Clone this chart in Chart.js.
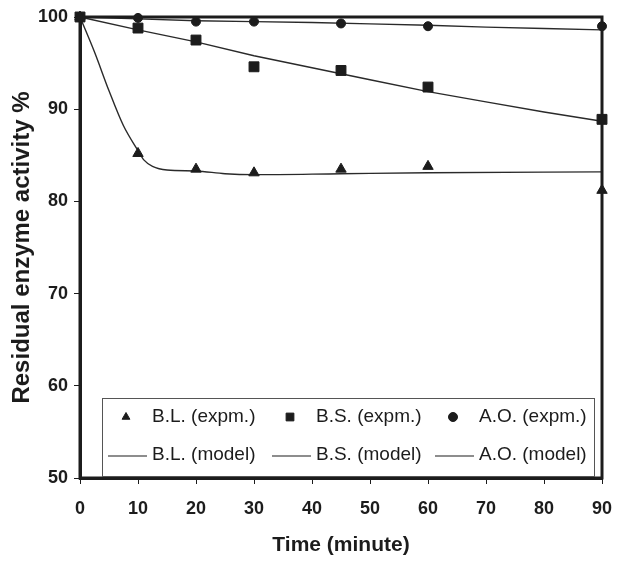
<!DOCTYPE html>
<html lang="en">
<head>
    <meta charset="UTF-8">
    <title>Residual enzyme activity</title>
    <script src="https://cdn.jsdelivr.net/npm/chart.js@4.4.1/dist/chart.umd.min.js"></script>
    <style>
        html, body { margin: 0; padding: 0; background: #fff; }
        #wrap { width: 640px; height: 567px; position: relative; }
    </style>
</head>
<body>
<div id="wrap"><canvas id="chart"></canvas></div>
<script>
// Measured points (minutes, % residual activity)
const expTimes = [0, 10, 20, 30, 45, 60, 90];
const blExp = [100, 85.2, 83.5, 83.1, 83.5, 83.8, 81.2];
const bsExp = [100, 98.8, 97.5, 94.6, 94.2, 92.4, 88.9];
const aoExp = [100, 99.9, 99.5, 99.5, 99.3, 99.0, 99.0];

// Model curves
const blModelTimes = [0, 2.5, 5, 7.5, 10, 11, 12.5, 15, 20, 25, 30, 45, 60, 90];
const blModel = [100, 96.2, 92.0, 88.2, 85.5, 84.5, 83.8, 83.4, 83.3, 83.0, 82.9, 83.0, 83.1, 83.2];
const modelTimes = [0, 10, 20, 30, 40, 50, 60, 70, 80, 90];
const bsModel = [100, 98.6, 97.3, 95.8, 94.5, 93.2, 91.9, 90.8, 89.7, 88.7];
const aoModel = [100, 99.8, 99.6, 99.5, 99.4, 99.25, 99.1, 98.9, 98.75, 98.6];

const xTicks = [0, 10, 20, 30, 40, 50, 60, 70, 80, 90];
const yTicks = [50, 60, 70, 80, 90, 100];

const INK = '#1c1c1c';
const FONT = "'Liberation Sans', Arial, sans-serif";

function pts(xs, ys) {
    return xs.map((x, i) => ({ x: x, y: ys[i] }));
}

function expSet(label, xs, ys, style, r) {
    return {
        label: label,
        data: pts(xs, ys),
        showLine: false,
        pointStyle: style,
        pointRadius: r,
        pointBackgroundColor: INK,
        pointBorderColor: INK,
        pointBorderWidth: 1,
        clip: false
    };
}

function modelSet(label, xs, ys, mono) {
    return {
        label: label,
        data: pts(xs, ys),
        showLine: true,
        borderColor: '#2a2a2a',
        borderWidth: 1.4,
        pointRadius: 0,
        fill: false,
        cubicInterpolationMode: mono ? 'monotone' : 'default',
        tension: 0,
        clip: false
    };
}

const datasets = [
    expSet('B.L. (expm.)', expTimes, blExp, 'triangle', 6),
    expSet('B.S. (expm.)', expTimes, bsExp, 'rect', 7),
    expSet('A.O. (expm.)', expTimes, aoExp, 'circle', 4.5),
    modelSet('B.L. (model)', blModelTimes, blModel, true),
    modelSet('B.S. (model)', modelTimes, bsModel, false),
    modelSet('A.O. (model)', modelTimes, aoModel, false)
];

// thick frame around the plot area
const framePlugin = {
    id: 'frame',
    afterDatasetsDraw(chart) {
        const a = chart.chartArea;
        const ctx = chart.ctx;
        ctx.save();
        ctx.strokeStyle = INK;
        ctx.lineWidth = 3;
        ctx.strokeRect(a.left, a.top, a.right - a.left, a.bottom - a.top);
        ctx.restore();
    }
};

// boxed legend inside the plot, 3 columns x 2 rows
const legendBoxPlugin = {
    id: 'legendBox',
    afterDraw(chart) {
        const ctx = chart.ctx;
        const box = { x: 102, y: 398, w: 492, h: 78 };
        const colX = [126, 290, 453];
        const rowY = [417, 455];
        ctx.save();
        ctx.fillStyle = '#fff';
        ctx.fillRect(box.x, box.y, box.w, box.h);
        ctx.strokeStyle = '#555';
        ctx.lineWidth = 1;
        ctx.strokeRect(box.x + 0.5, box.y + 0.5, box.w, box.h);
        ctx.font = '19px ' + FONT;
        ctx.textBaseline = 'middle';
        ctx.textAlign = 'left';
        chart.data.datasets.forEach((ds, i) => {
            const cx = colX[i % 3];
            const cy = rowY[Math.floor(i / 3)];
            ctx.fillStyle = INK;
            ctx.strokeStyle = INK;
            if (ds.showLine === false) {
                Chart.helpers.drawPoint(ctx, {
                    pointStyle: ds.pointStyle,
                    radius: ds.pointStyle === 'rect' ? 5.5 : 4.5,
                    rotation: 0,
                    borderWidth: 1
                }, cx, cy);
            } else {
                ctx.lineWidth = 1.2;
                ctx.beginPath();
                ctx.moveTo(cx - 18, cy + 1);
                ctx.lineTo(cx + 21, cy + 1);
                ctx.stroke();
            }
            ctx.fillStyle = INK;
            ctx.fillText(ds.label, cx + 26, cy);
        });
        ctx.restore();
    }
};

new Chart(document.getElementById('chart'), {
    type: 'scatter',
    data: { datasets: datasets },
    options: {
        responsive: true,
        maintainAspectRatio: false,
        animation: false,
        layout: { padding: { left: 0, top: 17, right: 38, bottom: 0 } },
        plugins: {
            legend: { display: false },
            tooltip: { enabled: false }
        },
        scales: {
            x: {
                type: 'linear',
                min: 0,
                max: 90,
                afterBuildTicks: s => { s.ticks = xTicks.map(v => ({ value: v })); },
                afterFit: s => { s.height = 89; },
                grid: { drawOnChartArea: false, color: INK, tickLength: 6, lineWidth: 1 },
                border: { color: INK, width: 3 },
                ticks: {
                    color: INK,
                    padding: 14,
                    font: { family: FONT, size: 18, weight: 'bold' }
                },
                title: {
                    display: true,
                    text: 'Time (minute)',
                    color: INK,
                    padding: { top: 0, bottom: 9 },
                    font: { family: FONT, size: 21, weight: 'bold' }
                }
            },
            y: {
                type: 'linear',
                min: 50,
                max: 100,
                afterBuildTicks: s => { s.ticks = yTicks.map(v => ({ value: v })); },
                afterFit: s => { s.width = 80; },
                grid: { drawOnChartArea: false, color: INK, tickLength: 6, lineWidth: 1 },
                border: { color: INK, width: 3 },
                ticks: {
                    color: INK,
                    padding: 6,
                    font: { family: FONT, size: 18, weight: 'bold' }
                },
                title: {
                    display: true,
                    text: 'Residual enzyme activity %',
                    color: INK,
                    padding: { top: 8, bottom: 0 },
                    font: { family: FONT, size: 24, weight: 'bold' }
                }
            }
        }
    },
    plugins: [framePlugin, legendBoxPlugin]
});
</script>
</body>
</html>
